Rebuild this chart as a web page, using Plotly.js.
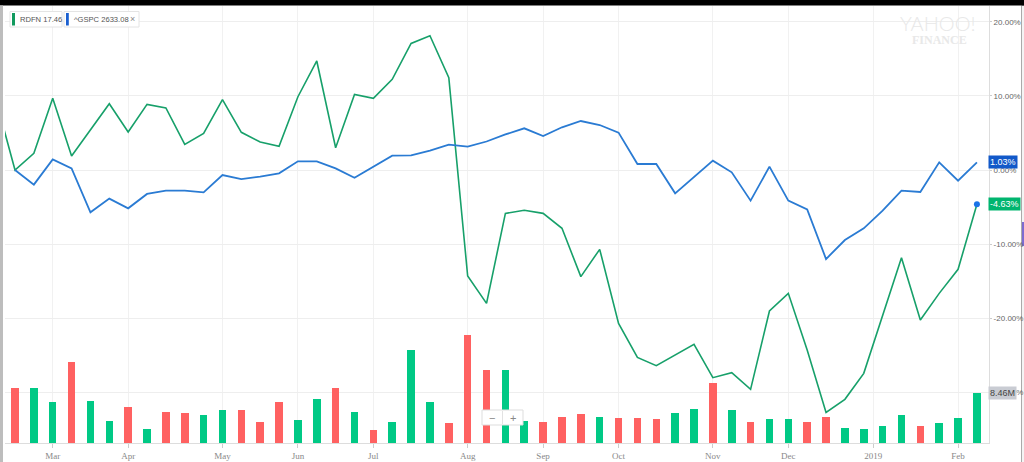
<!DOCTYPE html>
<html><head><meta charset="utf-8">
<script src="https://cdn.plot.ly/plotly-3.0.1.min.js"></script>
<style>html,body{margin:0;padding:0;background:#fff;overflow:hidden}#c{width:1024px;height:462px}</style>
</head><body><div id="c"></div>
<script>
// weekly points, index-based x axis (first RDFN value is the week before the start)
const rdfnPct = [9.4, 0, 2.26, 9.69, 1.89, 5.4, 8.96, 5.14, 8.87, 8.38, 3.47, 4.95, 9.5, 5.09, 3.78, 3.2, 9.9, 14.73, 3.01, 10.2, 9.68, 12.25, 17.1, 18.15, 12.48, -14.32, -18.02, -5.86, -5.45, -5.86, -7.88, -14.41, -10.72, -20.72, -25.32, -26.44, -25.0, -23.56, -28.06, -27.39, -29.64, -19.05, -16.67, -24.32, -32.75, -30.99, -27.48, -19.82, -11.85, -20.27, -16.67, -13.42, -4.63];
const gspcPct = [0, -1.98, 1.44, 0.22, -5.72, -3.87, -5.18, -3.24, -2.79, -2.79, -3.02, -0.68, -1.22, -0.9, -0.45, 1.17, 1.17, 0.22, -1.04, 0.45, 1.94, 1.98, 2.61, 3.42, 3.15, 3.85, 4.8, 5.63, 4.59, 5.77, 6.62, 6.08, 5.05, 0.81, 0.81, -3.15, -0.9, 1.26, -0.32, -4.14, 0.45, -4.14, -5.32, -12.03, -9.46, -7.88, -5.5, -2.79, -2.97, 1.04, -1.44, 1.03];
const volumeM = [9.25, 9.25, 6.95, 13.6, 7.06, 3.7, 6.0, 2.3, 5.16, 5.0, 4.65, 5.5, 5.6, 3.53, 6.95, 3.92, 7.4, 9.25, 5.26, 2.13, 3.53, 15.6, 6.84, 3.41, 18.15, 12.27, 12.27, 3.75, 3.58, 4.42, 4.87, 4.42, 4.15, 4.15, 4.03, 5.0, 5.71, 10.03, 5.5, 3.53, 4.03, 4.03, 3.53, 4.42, 2.47, 2.3, 2.8, 4.65, 2.8, 3.41, 4.15, 8.46];
const volumeDir = ['d','u','u','d','u','u','d','u','d','d','u','u','d','d','d','u','u','d','u','d','u','u','u','d','d','d','u','u','d','d','d','u','d','d','d','u','u','d','u','d','u','u','d','d','u','u','u','u','d','u','u','u'];
const tickPos = [2, 6, 11, 15, 19, 24, 28, 32, 37, 41, 45.5, 50];
const tickLabels = ['Mar','Apr','May','Jun','Jul','Aug','Sep','Oct','Nov','Dec','2019','Feb'];
const pctTicks = [20, 10, 0, -10, -20, -30];
const legendNames = ['RDFN 17.46', '^GSPC 2633.08'];

const GREEN_LINE = '#17a06a', BLUE_LINE = '#2a7bd3';
const idx = gspcPct.map((_, i) => i);
const rdfnX = rdfnPct.map((_, i) => i - (rdfnPct.length - gspcPct.length));
const last = gspcPct.length - 1;

const traces = [
  {type:'bar', x: idx, y: volumeM, yaxis:'y2', width:0.4,
   marker:{color: volumeDir.map(d => d === 'u' ? '#00c985' : '#ff6161'), line:{width:0}}, hoverinfo:'skip'},
  {type:'scatter', mode:'lines', x: rdfnX, y: rdfnPct, line:{color:GREEN_LINE, width:1.6}, hoverinfo:'skip'},
  {type:'scatter', mode:'lines', x: idx, y: gspcPct, line:{color:BLUE_LINE, width:1.8}, hoverinfo:'skip'},
  {type:'scatter', mode:'markers', x:[rdfnX[rdfnX.length-1]], y:[rdfnPct[rdfnPct.length-1]], marker:{color:'#1a73e8', size:6}, hoverinfo:'skip'}
];

const L = 5, R = 989, T = 6, B = 443;
const px = x => (x - L) / (R - L);
const py = y => (B - y) / (B - T);
function rect(x0,y0,x1,y1,fill,line,layer){return {type:'rect',xref:'paper',yref:'paper',x0:px(x0),x1:px(x1),y0:py(y1),y1:py(y0),fillcolor:fill,line:line||{width:0},layer:layer||'above'};}

const shapes = [
  rect(-10,-5,1040,5.5,'#000'),
  rect(-10,5.5,3,470,'#bdbdbd'),
  rect(1021.5,5.5,1030,470,'#f4f4f4',{color:'#aaaaaa',width:1},'below'),
  rect(1022,222,1030,246,'#7d6bd0',null,'below'),
  rect(10,11.5,62,27,'#ffffff',{color:'#e4e4e4',width:1}),
  rect(12,13,15,25.5,'#119a5e'),
  rect(64,11.5,139,27,'#ffffff',{color:'#e4e4e4',width:1}),
  rect(66,13,68.8,25.5,'#1a5fd0'),
  rect(482,410,523,425,'#ffffff',{color:'#dddddd',width:1}),
  {type:'line',xref:'paper',yref:'paper',x0:px(502.5),x1:px(502.5),y0:py(424),y1:py(411),line:{color:'#e2e2e2',width:1},layer:'above'}
];

const f = 'Liberation Sans, Arial, sans-serif';
const annotations = [
  {xref:'paper',yref:'paper',x:px(17.5),y:py(19.5),xanchor:'left',yanchor:'middle',text:legendNames[0],showarrow:false,font:{family:f,size:7.6,color:'#555'}},
  {xref:'paper',yref:'paper',x:px(71.5),y:py(19.5),xanchor:'left',yanchor:'middle',text:legendNames[1],showarrow:false,font:{family:f,size:7.6,color:'#555'}},
  {xref:'paper',yref:'paper',x:px(132.5),y:py(19.5),xanchor:'center',yanchor:'middle',text:'×',showarrow:false,font:{family:f,size:9,color:'#888'}},
  {xref:'paper',yref:'paper',x:px(938),y:py(23),xanchor:'center',yanchor:'middle',text:'YAHOO!',showarrow:false,font:{family:'Lato, sans-serif',size:20,color:'#e8e8e8',weight:300}},
  {xref:'paper',yref:'paper',x:px(939),y:py(39.5),xanchor:'center',yanchor:'middle',text:'FINANCE',showarrow:false,font:{family:'Liberation Serif, serif',size:12,color:'#e8e8e8',weight:700}},
  {xref:'paper',yref:'paper',x:px(492),y:py(417.5),xanchor:'center',yanchor:'middle',text:'−',showarrow:false,font:{family:f,size:11,color:'#888'}},
  {xref:'paper',yref:'paper',x:px(512.5),y:py(417.5),xanchor:'center',yanchor:'middle',text:'+',showarrow:false,font:{family:f,size:11,color:'#888'}},
  {xref:'paper',yref:'y',x:1,y:gspcPct[last],xanchor:'left',yanchor:'middle',xshift:-1,text:gspcPct[last].toFixed(2)+'%',showarrow:false,bgcolor:'#1259c9',borderpad:1,font:{family:f,size:9,color:'#fff'}},
  {xref:'paper',yref:'y',x:1,y:rdfnPct[rdfnPct.length-1],xanchor:'left',yanchor:'middle',xshift:-1,text:rdfnPct[rdfnPct.length-1].toFixed(2)+'%',showarrow:false,bgcolor:'#00b56f',borderpad:1,font:{family:f,size:9,color:'#fff'}},
  {xref:'paper',yref:'y2',x:1,y:volumeM[last],xanchor:'left',yanchor:'middle',xshift:-1,text:volumeM[last].toFixed(2)+'M',showarrow:false,bgcolor:'#c9ccd3',borderpad:1,font:{family:f,size:9,color:'#444'}}
];

const layout = {
  width:1024, height:462, margin:{l:L, r:1024-R, t:T, b:462-B, pad:0},
  paper_bgcolor:'#fff', plot_bgcolor:'#fff', showlegend:false, bargap:0,
  xaxis:{range:[-0.53, 51.64], tickvals:tickPos, ticktext:tickLabels, showgrid:true, gridcolor:'#f1f1f1', zeroline:false,
         ticks:'outside', ticklen:4, tickcolor:'#cccccc', showline:true, linecolor:'#dddddd',
         tickfont:{family:'Liberation Serif, serif', size:9, color:'#888'}, fixedrange:true},
  yaxis:{side:'right', range:[-36.89, 22.16], tickvals:pctTicks, ticktext:pctTicks.map(v => v.toFixed(2)+'%'),
         showgrid:true, gridcolor:'#eeeeee', zeroline:false, ticks:'outside', ticklen:2, tickcolor:'#cccccc',
         showline:true, linecolor:'#dddddd', tickfont:{family:f, size:8, color:'#666'}},
  yaxis2:{overlaying:'y', range:[0, 73.5], visible:false},
  shapes, annotations
};
Plotly.newPlot('c', traces, layout, {staticPlot:true, displayModeBar:false});
</script></body></html>
